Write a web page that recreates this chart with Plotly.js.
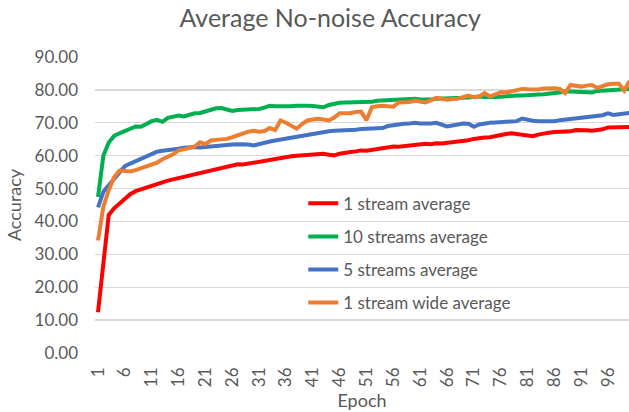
<!DOCTYPE html>
<html>
<head>
<meta charset="utf-8">
<script src="https://cdn.plot.ly/plotly-3.0.1.min.js"></script>
<style>html,body{margin:0;padding:0;background:#fff;}#chart{width:629px;height:412px;}</style>
</head>
<body>
<div id="chart"></div>
<script>
var epochs = [];
for (var i = 1; i <= 100; i++) epochs.push(i);

var xTickVals = [1,6,11,16,21,26,31,36,41,46,51,56,61,66,71,76,81,86,91,96];
var xTickText = ["1","6","11","16","21","26","31","36","41","46","51","56","61","66","71","76","81","86","91","96"];
var yTickVals = [0,10,20,30,40,50,60,70,80,90];

var seriesNames = ["1 stream average","10 streams average","5 streams average","1 stream wide average"];
var seriesColors = ["#FF0000","#00B050","#4472C4","#ED7D31"];

var oneStream = [
12.4,28.0,42.0,44.0,45.5,47.2,48.3,49.2,49.8,50.4,
51.0,51.4,51.9,52.4,52.8,53.3,53.6,54.1,54.4,54.9,
55.3,55.7,56.0,56.3,56.8,57.1,57.4,57.3,57.6,57.7,
58.0,58.4,58.5,58.9,59.4,59.6,59.8,60.0,60.1,60.0,
60.2,60.4,60.6,60.3,60.1,60.6,61.0,61.1,61.3,61.6,
61.5,61.8,62.1,62.4,62.6,62.8,62.7,62.9,63.2,63.1,
63.5,63.6,63.5,63.8,63.7,63.9,64.0,64.2,64.3,64.7,
65.1,65.4,65.5,65.6,66.0,66.1,66.6,66.8,66.5,66.3,
66.2,65.9,66.4,66.8,67.0,67.2,67.2,67.5,67.4,67.8,
67.6,67.7,67.6,67.8,68.0,68.6,68.6,68.7,68.6,68.7];

var tenStreams = [
47.4,60.0,64.0,66.0,66.8,67.6,68.4,68.9,68.8,69.6,
70.5,70.9,70.3,71.5,72.0,72.2,71.9,72.4,72.9,73.0,
73.5,73.9,74.4,74.5,74.2,73.6,73.9,73.9,74.0,74.1,
74.2,74.6,75.2,75.0,74.9,74.8,75.0,75.2,75.3,75.2,
75.1,75.0,74.7,75.4,75.9,76.1,76.2,76.2,76.1,76.2,
76.3,76.4,76.7,76.8,76.9,77.0,77.1,77.0,77.2,77.3,
77.1,77.0,77.1,77.3,77.3,77.4,77.5,77.4,77.6,77.7,
77.9,78.0,77.8,77.7,77.8,77.9,78.1,78.2,78.3,78.3,
78.5,78.6,78.6,78.7,78.8,79.0,79.2,79.6,79.5,79.3,
79.1,79.0,79.2,79.7,79.8,79.8,79.9,79.8,80.0,80.3];

var fiveStreams = [
44.3,49.0,51.0,53.0,55.0,56.8,57.6,58.3,59.0,59.8,
60.6,61.2,61.5,61.6,61.9,62.1,62.4,62.6,62.6,62.5,
62.7,62.9,63.1,63.0,63.3,63.4,63.5,63.5,63.4,63.1,
63.6,63.9,64.3,64.6,64.9,65.2,65.6,65.8,66.1,66.3,
66.6,66.8,67.1,67.4,67.6,67.6,67.7,67.6,67.9,68.1,
68.2,68.3,68.2,68.4,69.0,69.3,69.5,69.7,69.8,70.0,
69.8,69.7,69.8,70.0,69.4,68.9,69.2,69.6,69.8,69.7,
68.8,69.5,69.9,70.0,70.1,70.2,70.3,70.2,70.5,71.3,
70.9,70.6,70.5,70.4,70.5,70.5,70.8,71.0,71.2,71.4,
71.6,71.7,71.9,72.1,72.3,72.9,72.4,72.6,72.8,73.0];

var oneStreamWide = [
34.2,44.5,49.5,53.4,55.5,55.4,55.2,55.6,56.2,56.8,
57.4,57.9,58.9,59.5,60.4,61.6,61.8,62.3,62.8,64.1,
63.5,64.6,64.8,64.8,65.1,65.6,66.2,67.0,67.3,67.6,
67.3,67.5,68.4,67.8,70.7,70.0,69.2,68.2,69.6,70.7,
71.0,71.2,71.0,70.7,71.6,72.9,72.9,72.9,73.3,73.4,
70.8,74.7,75.0,75.2,75.0,74.9,76.2,76.1,76.3,76.7,
76.5,76.2,76.8,77.6,77.3,77.0,77.2,77.3,77.8,78.3,
77.8,78.0,79.0,78.0,78.6,79.3,79.2,79.6,80.0,80.3,
80.2,80.0,80.1,80.4,80.6,80.5,80.3,79.0,81.5,81.2,
81.0,81.3,81.5,80.6,81.2,81.7,81.9,81.9,79.8,82.7];

var allSeries = [oneStream, tenStreams, fiveStreams, oneStreamWide];

var FONT = "Lato, 'Open Sans', sans-serif";
var GRAY = "#595959";

var traces = allSeries.map(function (ys, k) {
  return {
    x: epochs, y: ys, type: "scatter", mode: "lines",
    name: seriesNames[k], legendgroup: "g" + k,
    line: {color: seriesColors[k], width: 4, shape: "linear"},
    hoverinfo: "skip"
  };
});

var layout = {
  width: 629, height: 412,
  margin: {l: 95, r: 0, t: 57, b: 59, pad: 0},
  paper_bgcolor: "#ffffff", plot_bgcolor: "#ffffff",
  font: {family: FONT, color: GRAY, size: 17},
  title: {text: "Average No-noise Accuracy", x: 0.525, xref: "container", xanchor: "center",
          y: 0.955, yref: "container", yanchor: "middle",
          font: {family: FONT, size: 25, color: GRAY}},
  xaxis: {
    range: [0.44, 99.9], tickmode: "array", tickvals: xTickVals, ticktext: xTickText,
    tickangle: -90, showgrid: false, zeroline: false, showline: false,
    ticks: "", ticklabelstandoff: 10,
    tickfont: {family: FONT, size: 17, color: GRAY},
    title: {text: "Epoch", font: {family: FONT, size: 18, color: GRAY}, standoff: 8}
  },
  yaxis: {
    range: [0, 90], tickmode: "array", tickvals: yTickVals, tickformat: ".2f",
    showgrid: true, gridcolor: "#D9D9D9", gridwidth: 1.3, zeroline: false, showline: false,
    ticks: "", ticklabelstandoff: 16,
    tickfont: {family: FONT, size: 17, color: GRAY},
    title: {text: "Accuracy", font: {family: FONT, size: 18, color: GRAY}, standoff: 8}
  },
  showlegend: true,
  legend: {
    x: 0.39, xanchor: "left", y: 0.565, yanchor: "top",
    bgcolor: "rgba(0,0,0,0)", borderwidth: 0,
    traceorder: "grouped", tracegroupgap: 8,
    font: {family: FONT, size: 17, color: GRAY}
  }
};

Plotly.newPlot("chart", traces, layout, {displayModeBar: false, staticPlot: true});
</script>
</body>
</html>
